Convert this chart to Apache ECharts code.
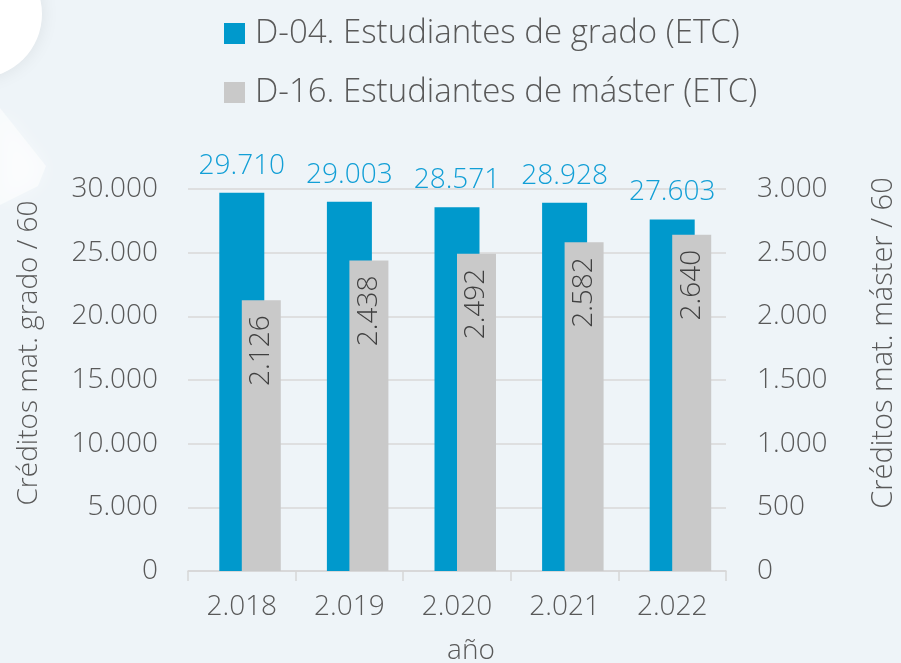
<!DOCTYPE html>
<html>
<head>
<meta charset="utf-8">
<script src="https://cdn.jsdelivr.net/npm/echarts@6/dist/echarts.min.js"></script>
<style>
	html, body { margin: 0; padding: 0; background: #eef4f8; }
	#chart { width: 901px; height: 663px; }
</style>
</head>
<body>
<div id="chart"></div>
<script>
var years = ['2.018', '2.019', '2.020', '2.021', '2.022'];
var grado = [29710, 29003, 28571, 28928, 27603];
var master = [2126, 2438, 2492, 2582, 2640];
var gradoTicks = { min: 0, max: 30000, interval: 5000 };
var masterTicks = { min: 0, max: 3000, interval: 500 };
var names = ['D-04. Estudiantes de grado (ETC)', 'D-16. Estudiantes de máster (ETC)'];

var FONT = '"Open Sans", "Noto Sans", sans-serif';
var TXT = '#595959';
var W = 300;

// separador de miles con punto
function miles(v) {
	return String(v).replace(/\B(?=(\d{3})+(?!\d))/g, '.');
}

var chart = echarts.init(document.getElementById('chart'));

var option = {
	backgroundColor: '#eef4f8',
	textStyle: { fontFamily: FONT, fontWeight: W },
	animation: false,
	graphic: [
		//adorno arriba a la izquierda
		{
			type: 'circle',
			shape: { cx: -22, cy: 14, r: 64 },
			style: { fill: '#ffffff', shadowBlur: 18, shadowColor: 'rgba(0,0,0,0.08)' },
			silent: true
		},
		{
			type: 'polygon',
			shape: { points: [[0, 108], [46, 166], [38, 186], [0, 205]] },
			style: { fill: 'rgba(255,255,255,0.55)', shadowBlur: 20, shadowColor: 'rgba(255,255,255,0.8)' },
			silent: true
		},
		{
			type: 'text',
			x: 29, y: 353,
			rotation: Math.PI / 2,
			style: {
				text: 'Créditos mat. grado / 60',
				fill: TXT, font: W + ' 28px ' + FONT,
				align: 'center', verticalAlign: 'middle'
			}
		},
		{
			type: 'text',
			x: 884, y: 343,
			rotation: Math.PI / 2,
			style: {
				text: 'Créditos mat. máster / 60',
				fill: TXT, font: W + ' 29px ' + FONT,
				align: 'center', verticalAlign: 'middle'
			}
		}
	],
	legend: {
		orient: 'vertical',
		left: 219,
		top: 12,
		itemWidth: 21,
		itemHeight: 21,
		itemGap: 26,
		icon: 'rect',
		data: names,
		textStyle: { fontSize: 33, fontWeight: W, color: TXT, lineHeight: 33, padding: [0, 0, 0, 5] }
	},
	grid: {
		left: 188,
		right: 175,
		top: 189,
		bottom: 92,
		outerBoundsMode: 'none'
	},
	xAxis: [{
		type: 'category',
		data: years,
		name: 'año',
		nameLocation: 'middle',
		nameGap: 66,
		nameTextStyle: { fontSize: 28, fontWeight: W, color: TXT, padding: [0, 0, 0, 28] },
		axisLine: { lineStyle: { color: '#d6d6d6', width: 1.5 } },
		axisTick: { show: true, length: 10, lineStyle: { color: '#d6d6d6', width: 1.5 } },
		axisLabel: { fontSize: 28, fontWeight: W, color: TXT, margin: 22 }
	}, {
		type: 'category',
		data: years,
		show: false
	}],
	yAxis: [{
		type: 'value',
		min: gradoTicks.min,
		max: gradoTicks.max,
		interval: gradoTicks.interval,
		axisLine: { show: false },
		axisTick: { show: false },
		splitLine: { lineStyle: { color: '#d9d9d9', width: 1.5 } },
		axisLabel: { fontSize: 28, fontWeight: W, color: TXT, margin: 30, formatter: miles }
	}, {
		type: 'value',
		min: masterTicks.min,
		max: masterTicks.max,
		interval: masterTicks.interval,
		axisLine: { show: false },
		axisTick: { show: false },
		splitLine: { show: false },
		axisLabel: { fontSize: 28, fontWeight: W, color: TXT, margin: 31, formatter: miles }
	}],
	series: [{
		name: names[0],
		type: 'bar',
		xAxisIndex: 0,
		yAxisIndex: 0,
		barWidth: 45,
		data: grado,
		itemStyle: { color: '#0099cc' },
		label: {
			show: true,
			position: 'top',
			distance: 13,
			fontSize: 28,
			fontWeight: W,
			color: '#129fd6',
			formatter: function(p) { return miles(p.value); }
		}
	}, {
		// hueco para desplazar la barra gris hacia la derecha
		name: 'hueco',
		type: 'bar',
		xAxisIndex: 1,
		yAxisIndex: 1,
		barWidth: 39,
		barGap: '0%',
		data: years.map(function() { return '-'; }),
		silent: true
	}, {
		name: names[1],
		type: 'bar',
		xAxisIndex: 1,
		yAxisIndex: 1,
		barWidth: 39,
		barGap: '0%',
		data: master,
		itemStyle: { color: '#c9c9c9' },
		label: {
			show: true,
			position: 'insideTop',
			distance: 15,
			rotate: 90,
			align: 'right',
			verticalAlign: 'middle',
			fontSize: 28,
			fontWeight: W,
			color: '#404040',
			formatter: function(p) { return miles(p.value); }
		}
	}]
};

chart.setOption(option);
</script>
</body>
</html>
